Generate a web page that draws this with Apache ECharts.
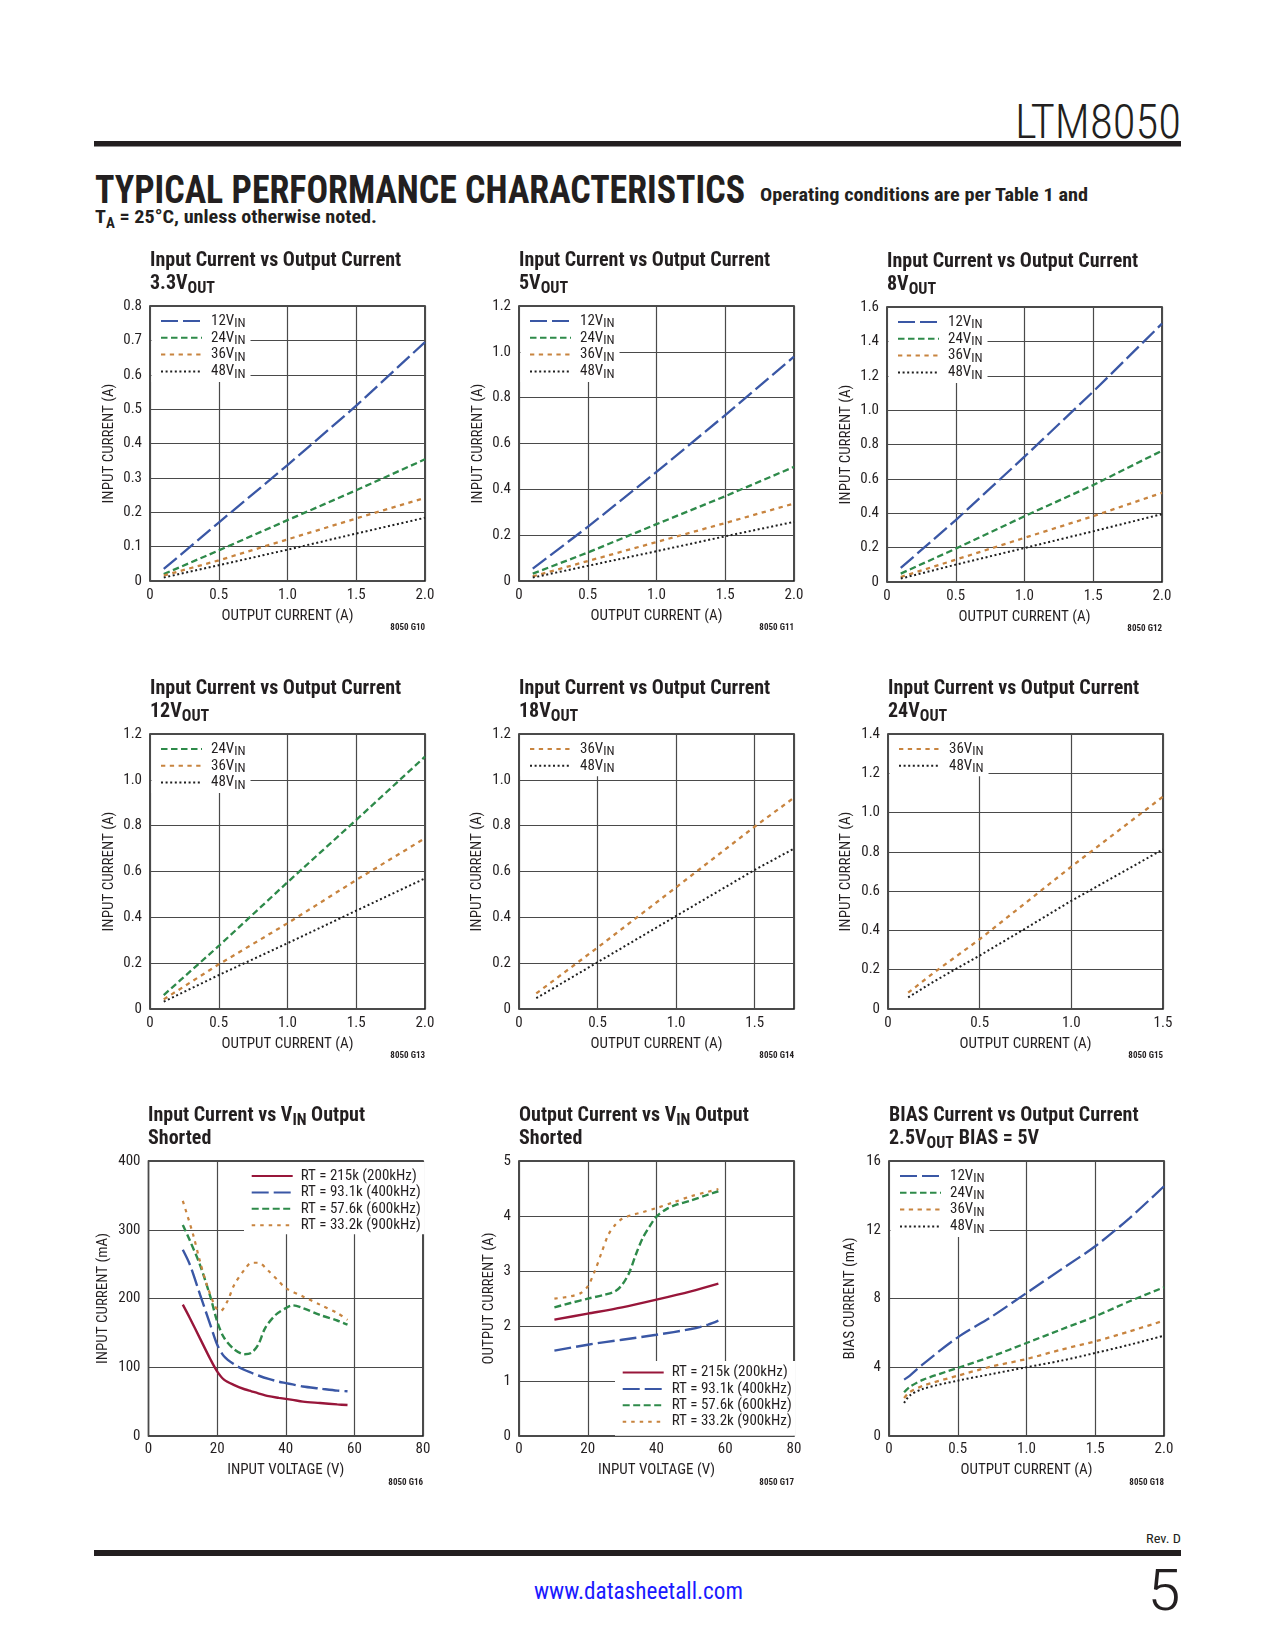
<!DOCTYPE html>
<html><head><meta charset="utf-8">
<script src="https://cdn.jsdelivr.net/npm/echarts@6/dist/echarts.min.js"></script>
<style>
html,body{margin:0;padding:0;background:#fff;}
body{width:1275px;height:1650px;position:relative;overflow:hidden;}
.panel{position:absolute;width:375px;height:410px;}
svg{position:absolute;left:0;top:0;}
</style></head><body>
<svg width="1275" height="1650" font-family="'Roboto Condensed','DejaVu Sans Condensed',sans-serif" fill="#231f20">
  <text x="1015" y="138" font-size="49" font-weight="300" textLength="166" lengthAdjust="spacingAndGlyphs">LTM8050</text>
  <rect x="94" y="141" width="1087" height="5.5" fill="#231f20"/>
  <text x="95" y="203" font-size="39" font-weight="bold" textLength="650" lengthAdjust="spacingAndGlyphs">TYPICAL PERFORMANCE CHARACTERISTICS</text>
  <text x="760" y="201" font-size="19" font-weight="bold" textLength="328" lengthAdjust="spacingAndGlyphs">Operating conditions are per Table 1 and</text>
  <text x="95" y="223" font-size="19" font-weight="bold" textLength="282" lengthAdjust="spacingAndGlyphs">T<tspan dy="5" font-size="14">A</tspan><tspan dy="-5"> = 25°C, unless otherwise noted.</tspan></text>
  <text x="1146" y="1543" font-size="13" textLength="35" lengthAdjust="spacingAndGlyphs">Rev. D</text>
  <rect x="94" y="1550" width="1087" height="6" fill="#231f20"/>
  <text x="534" y="1599" font-size="24" fill="#1a1aff" textLength="209" lengthAdjust="spacingAndGlyphs">www.datasheetall.com</text>
  <text x="1147" y="1610" font-size="58" font-weight="300" textLength="34" lengthAdjust="spacingAndGlyphs">5</text>
</svg>
<div id="g10" class="panel"></div><div id="g11" class="panel"></div><div id="g12" class="panel"></div>
<div id="g13" class="panel"></div><div id="g14" class="panel"></div><div id="g15" class="panel"></div>
<div id="g16" class="panel"></div><div id="g17" class="panel"></div><div id="g18" class="panel"></div>
<script>
// ---------- DATA ----------
// G10: 3.3VOUT
const g10_iout = [0.1, 0.5, 1.0, 1.5, 2.0];
const g10_12vin = [0.035, 0.17, 0.337, 0.51, 0.695];
const g10_24vin = [0.02, 0.089, 0.177, 0.264, 0.354];
const g10_36vin = [0.016, 0.06, 0.121, 0.182, 0.242];
const g10_48vin = [0.01, 0.046, 0.091, 0.138, 0.184];
// G11: 5VOUT
const g11_iout = [0.1, 0.5, 1.0, 1.5, 2.0];
const g11_12vin = [0.054, 0.236, 0.476, 0.724, 0.979];
const g11_24vin = [0.032, 0.124, 0.248, 0.37, 0.498];
const g11_36vin = [0.02, 0.087, 0.17, 0.253, 0.338];
const g11_48vin = [0.015, 0.066, 0.13, 0.195, 0.258];
// G12: 8VOUT
const g12_iout = [0.1, 0.5, 1.0, 1.5, 2.0];
const g12_12vin = [0.082, 0.36, 0.729, 1.108, 1.503];
const g12_24vin = [0.049, 0.194, 0.383, 0.564, 0.764];
const g12_36vin = [0.029, 0.13, 0.257, 0.383, 0.519];
const g12_48vin = [0.02, 0.101, 0.198, 0.295, 0.395];
// G13: 12VOUT
const g13_iout = [0.1, 0.5, 1.0, 1.5, 2.0];
const g13_24vin = [0.061, 0.275, 0.553, 0.825, 1.101];
const g13_36vin = [0.042, 0.195, 0.374, 0.563, 0.745];
const g13_48vin = [0.032, 0.148, 0.287, 0.429, 0.57];
// G14: 18VOUT
const g14_iout = [0.11, 0.5, 1.0, 1.5, 1.75];
const g14_36vin = [0.068, 0.268, 0.531, 0.796, 0.922];
const g14_48vin = [0.047, 0.204, 0.406, 0.607, 0.70];
// G15: 24VOUT
const g15_iout = [0.11, 0.25, 0.5, 0.75, 1.0, 1.25, 1.5];
const g15_36vin = [0.083, 0.185, 0.355, 0.54, 0.725, 0.903, 1.081];
const g15_48vin = [0.059, 0.14, 0.272, 0.41, 0.551, 0.682, 0.813];
// G16: input current (mA) vs VIN, output shorted
const g16_vin_215k = [10, 12, 15, 18, 20, 22, 25, 28, 30, 32, 35, 38, 40, 42, 45, 50, 55, 58];
const g16_ma_215k = [191, 172, 142, 112, 94, 82, 74, 68, 65, 62, 58, 55.5, 54, 52.5, 50, 48, 46, 45];
const g16_vin_93k = [10, 12, 15, 18, 20, 22, 25, 28, 30, 32, 35, 38, 40, 42, 45, 50, 55, 58];
const g16_ma_93k = [271, 250, 206, 162, 133, 116, 104, 96, 92, 88, 83, 79, 77, 75, 72, 69, 66, 65];
const g16_vin_57k = [10, 12, 15, 18, 20, 22, 25, 28, 30, 32, 34, 37, 40, 42, 45, 50, 55, 58];
const g16_ma_57k = [307, 285, 249, 203, 167, 143, 126, 119, 121, 133, 157, 176, 186, 190, 186, 176, 168, 162];
const g16_vin_33k = [10, 13, 15, 17, 19, 20, 21, 23, 25, 28, 30, 32, 35, 38, 40, 45, 50, 55, 58];
const g16_ma_33k = [342, 293, 254, 220, 193, 184, 182, 196, 220, 242, 252, 252, 240, 225, 215, 203, 191, 179, 169];
// G17: output current (A) vs VIN, output shorted
const g17_vin_215k = [10.3, 20, 30, 40, 50, 58];
const g17_a_215k = [2.115, 2.224, 2.339, 2.479, 2.63, 2.77];
const g17_vin_93k = [10.3, 20, 30, 40, 50, 55, 58];
const g17_a_93k = [1.552, 1.66, 1.75, 1.84, 1.945, 2.024, 2.097];
const g17_vin_57k = [10.3, 15, 20, 25, 28, 30, 32, 34, 36, 38, 40, 43, 46, 50, 55, 58];
const g17_a_57k = [2.34, 2.418, 2.497, 2.57, 2.63, 2.75, 2.96, 3.30, 3.6, 3.81, 3.99, 4.13, 4.21, 4.28, 4.39, 4.45];
const g17_vin_33k = [10.3, 15, 18, 20, 22, 24, 26, 28, 30, 33, 36, 40, 45, 50, 55, 58];
const g17_a_33k = [2.497, 2.54, 2.6, 2.72, 2.99, 3.33, 3.66, 3.84, 3.95, 4.02, 4.07, 4.145, 4.25, 4.36, 4.44, 4.49];
// G18: BIAS current (mA) vs output current
const g18_iout = [0.11, 0.15, 0.25, 0.5, 0.75, 1.0, 1.25, 1.5, 1.75, 2.0];
const g18_12vin = [3.28, 3.5, 4.2, 5.74, 6.96, 8.32, 9.68, 11.04, 12.68, 14.53];
const g18_24vin = [2.54, 2.85, 3.28, 3.96, 4.64, 5.41, 6.19, 6.96, 7.84, 8.65];
const g18_36vin = [2.21, 2.55, 2.93, 3.51, 4.05, 4.48, 5.02, 5.51, 6.09, 6.71];
const g18_48vin = [1.92, 2.35, 2.75, 3.22, 3.61, 4.0, 4.38, 4.83, 5.31, 5.84];

const VIN_NAMES = ['12V', '24V', '36V', '48V'];
const RT_NAMES = ['RT = 215k (200kHz)', 'RT = 93.1k (400kHz)', 'RT = 57.6k (600kHz)', 'RT = 33.2k (900kHz)'];

// ---------- STYLE ----------
const FONT = "'Roboto Condensed','DejaVu Sans Condensed',sans-serif";
const INK = '#231f20';
const STY = {
  v12: {color:'#3A57A5', width:2.3, type:[17,5]},
  v24: {color:'#2E8A4A', width:2.3, type:[6.5,3.5]},
  v36: {color:'#C8843F', width:2.3, type:[4.3,4.5]},
  v48: {color:'#1f1f1f', width:2, type:[2,2.6]},
  rt215: {color:'#98163A', width:2.4, type:'solid'},
  rt93: {color:'#3A57A5', width:2.4, type:[17,5]},
  rt57: {color:'#2E8A4A', width:2.4, type:[7,3.5]},
  rt33: {color:'#C8843F', width:2.2, type:[3.5,5]}
};
const TITLE_RICH = {
  b: {fontFamily:FONT, fontWeight:'bold', fontSize:20, color:INK, lineHeight:23},
  s: {fontFamily:FONT, fontWeight:'bold', fontSize:16, color:INK, lineHeight:13, padding:[10,0,0,0]}
};
const LEG_RICH = {
  m: {fontFamily:FONT, fontSize:15, color:INK, lineHeight:16, padding:[0,0,0,4]},
  s: {fontFamily:FONT, fontSize:13, color:INK, lineHeight:8, padding:[6,0,0,0]},
  t: {fontFamily:FONT, fontSize:15, color:INK, lineHeight:16, padding:[0,0,0,3]}
};

const vinLegend = (left, top, pad, names) => ({kind:'vin', left, top, pad, names});
const rtLegend = (left, top, pad) => ({kind:'rt', left, top, pad, names: RT_NAMES});
const VPAD = [4.5,5,1,8.5];

const PANELS = [
  {id:'g10', left:90, top:235, title:'{b|Input Current vs Output Current}\n{b|3.3V}{s|OUT}', code:'8050 G10',
   x:{max:2, int:0.5, dec:1, name:'OUTPUT CURRENT (A)', gap:28, margin:7},
   y:{max:0.8, int:0.1, dec:1, name:'INPUT CURRENT (A)', gap:33},
   legend: vinLegend(61.5, 72, VPAD, VIN_NAMES),
   series:[['12V', g10_iout, g10_12vin, 'v12'], ['24V', g10_iout, g10_24vin, 'v24'], ['36V', g10_iout, g10_36vin, 'v36'], ['48V', g10_iout, g10_48vin, 'v48']]},
  {id:'g11', left:459, top:235, title:'{b|Input Current vs Output Current}\n{b|5V}{s|OUT}', code:'8050 G11',
   x:{max:2, int:0.5, dec:1, name:'OUTPUT CURRENT (A)', gap:28, margin:7},
   y:{max:1.2, int:0.2, dec:1, name:'INPUT CURRENT (A)', gap:33.5},
   legend: vinLegend(61.5, 72, VPAD, VIN_NAMES),
   series:[['12V', g11_iout, g11_12vin, 'v12'], ['24V', g11_iout, g11_24vin, 'v24'], ['36V', g11_iout, g11_36vin, 'v36'], ['48V', g11_iout, g11_48vin, 'v48']]},
  {id:'g12', left:827, top:236, title:'{b|Input Current vs Output Current}\n{b|8V}{s|OUT}', code:'8050 G12',
   x:{max:2, int:0.5, dec:1, name:'OUTPUT CURRENT (A)', gap:28, margin:7},
   y:{max:1.6, int:0.2, dec:1, name:'INPUT CURRENT (A)', gap:33.5},
   legend: vinLegend(61.5, 72, VPAD, VIN_NAMES),
   series:[['12V', g12_iout, g12_12vin, 'v12'], ['24V', g12_iout, g12_24vin, 'v24'], ['36V', g12_iout, g12_36vin, 'v36'], ['48V', g12_iout, g12_48vin, 'v48']]},
  {id:'g13', left:90, top:663, title:'{b|Input Current vs Output Current}\n{b|12V}{s|OUT}', code:'8050 G13',
   x:{max:2, int:0.5, dec:1, name:'OUTPUT CURRENT (A)', gap:28, margin:7},
   y:{max:1.2, int:0.2, dec:1, name:'INPUT CURRENT (A)', gap:33},
   legend: vinLegend(61.5, 72, VPAD, ['24V','36V','48V']),
   series:[['24V', g13_iout, g13_24vin, 'v24'], ['36V', g13_iout, g13_36vin, 'v36'], ['48V', g13_iout, g13_48vin, 'v48']]},
  {id:'g14', left:459, top:663, title:'{b|Input Current vs Output Current}\n{b|18V}{s|OUT}', code:'8050 G14',
   x:{max:1.75, int:0.5, dec:1, name:'OUTPUT CURRENT (A)', gap:28, margin:7, hideMax:true},
   y:{max:1.2, int:0.2, dec:1, name:'INPUT CURRENT (A)', gap:34},
   legend: vinLegend(61.5, 72, VPAD, ['36V','48V']),
   series:[['36V', g14_iout, g14_36vin, 'v36'], ['48V', g14_iout, g14_48vin, 'v48']]},
  {id:'g15', left:828, top:663, title:'{b|Input Current vs Output Current}\n{b|24V}{s|OUT}', code:'8050 G15',
   x:{max:1.5, int:0.5, dec:1, name:'OUTPUT CURRENT (A)', gap:28, margin:7},
   y:{max:1.4, int:0.2, dec:1, name:'INPUT CURRENT (A)', gap:34},
   legend: vinLegend(61.5, 72, VPAD, ['36V','48V']),
   series:[['36V', g15_iout, g15_36vin, 'v36'], ['48V', g15_iout, g15_48vin, 'v48']]},
  {id:'g16', left:88, top:1090, title:'{b|Input Current vs V}{s|IN}{b| Output}\n{b|Shorted}', code:'8050 G16', smooth:0.3,
   x:{max:80, int:20, dec:0, name:'INPUT VOLTAGE (V)', gap:27, margin:6},
   y:{max:400, int:100, dec:0, name:'INPUT CURRENT (mA)', gap:37.5},
   legend: rtLegend(156, 72, [6,4,1,6.7]),
   series:[[RT_NAMES[0], g16_vin_215k, g16_ma_215k, 'rt215'], [RT_NAMES[1], g16_vin_93k, g16_ma_93k, 'rt93'], [RT_NAMES[2], g16_vin_57k, g16_ma_57k, 'rt57'], [RT_NAMES[3], g16_vin_33k, g16_ma_33k, 'rt33']]},
  {id:'g17', left:459, top:1090, title:'{b|Output Current vs V}{s|IN}{b| Output}\n{b|Shorted}', code:'8050 G17', smooth:0.3,
   x:{max:80, int:20, dec:0, name:'INPUT VOLTAGE (V)', gap:27, margin:6},
   y:{max:5, int:1, dec:0, name:'OUTPUT CURRENT (A)', gap:22},
   legend: rtLegend(156, 271, [3.5,4,6,6.7]),
   series:[[RT_NAMES[0], g17_vin_215k, g17_a_215k, 'rt215'], [RT_NAMES[1], g17_vin_93k, g17_a_93k, 'rt93'], [RT_NAMES[2], g17_vin_57k, g17_a_57k, 'rt57'], [RT_NAMES[3], g17_vin_33k, g17_a_33k, 'rt33']]},
  {id:'g18', left:829, top:1090, title:'{b|BIAS Current vs Output Current}\n{b|2.5V}{s|OUT}{b| BIAS = 5V}', code:'8050 G18', smooth:0.3,
   x:{max:2, int:0.5, dec:1, name:'OUTPUT CURRENT (A)', gap:27, margin:6},
   y:{max:16, int:4, dec:0, name:'BIAS CURRENT (mA)', gap:31},
   legend: vinLegend(61.5, 72, VPAD, VIN_NAMES),
   series:[['12V', g18_iout, g18_12vin, 'v12'], ['24V', g18_iout, g18_24vin, 'v24'], ['36V', g18_iout, g18_36vin, 'v36'], ['48V', g18_iout, g18_48vin, 'v48']]}
];

const fmt = dec => v => (v === 0 ? '0' : v.toFixed(dec));

PANELS.forEach(p => {
  const el = document.getElementById(p.id);
  el.style.left = p.left + 'px';
  el.style.top = p.top + 'px';
  const chart = echarts.init(el, null, {renderer:'canvas', width:375, height:410});
  const axisCommon = (a, isX) => ({
    type:'value', min:0, max:a.max, interval:a.int,
    axisLine:{show:false}, axisTick:{show:false},
    splitLine:{show:true, lineStyle:{color:'#4a4a4a', width:1.2}},
    axisLabel:{margin: isX ? a.margin : 8, fontFamily:FONT, fontSize:15, color:INK, formatter: fmt(a.dec), showMaxLabel: !a.hideMax},
    name:a.name, nameLocation:'middle', nameGap:a.gap, nameMoveOverlap:false,
    nameTextStyle:{fontFamily:FONT, fontSize:15, color:INK}
  });
  const lg = p.legend;
  const isRT = lg.kind === 'rt';
  chart.setOption({
    animation:false,
    title:[
      {text:p.title, left:60, top:14, padding:0, textStyle:{fontFamily:FONT, fontWeight:'bold', fontSize:20, color:INK, lineHeight:23, rich:TITLE_RICH}},
      {text:p.code, right:40, top:388, padding:0, textStyle:{fontFamily:FONT, fontWeight:'bold', fontSize:9, color:INK}}
    ],
    grid:{left:60, top:71, width:275, height:275, show:true, borderColor:'#111', borderWidth:1.5, backgroundColor:'transparent'},
    xAxis: axisCommon(p.x, true),
    yAxis: axisCommon(p.y, false),
    legend:{
      orient:'vertical', left:lg.left, top:lg.top, padding:lg.pad,
      itemWidth:41, itemHeight:14, itemGap: isRT ? 0.4 : -2.2,
      backgroundColor:'#fff', selectedMode:false, data:lg.names,
      formatter: n => isRT ? '{t|' + n + '}' : '{m|' + n + '}{s|IN}',
      textStyle:{fontFamily:FONT, fontSize:15, color:INK, lineHeight:16, rich:LEG_RICH},
      itemStyle:{opacity:0}
    },
    series: p.series.map(([name, xs, ys, sk]) => ({
      type:'line', name, symbol:'none', smooth: p.smooth || false,
      data: xs.map((x, i) => [x, ys[i]]),
      lineStyle:{color:STY[sk].color, width:STY[sk].width, type:STY[sk].type, cap:'butt'},
      itemStyle:{color:STY[sk].color},
      emphasis:{disabled:true}
    }))
  });
});
</script>
</body></html>
